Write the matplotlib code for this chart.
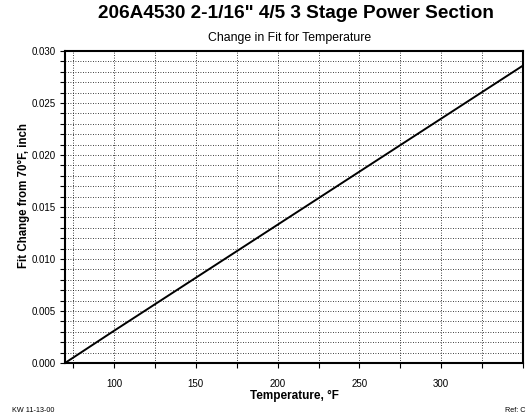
import numpy as np
import matplotlib.pyplot as plt
from matplotlib.ticker import MultipleLocator, FixedLocator, FormatStrFormatter

plt.rcParams['font.family'] = ['Liberation Sans', 'DejaVu Sans']

# Fit change vs temperature
temps = [70, 100, 150, 200, 250, 300, 350]
fit_change = [0.0, 0.0031, 0.0082, 0.0133, 0.0184, 0.0235, 0.0286]
x_labels = [100, 150, 200, 250, 300]

fig = plt.figure(figsize=(5.29, 4.19), dpi=100)
ax = fig.add_axes([65/529, 1 - 363/419, (523 - 65)/529, (363 - 51)/419])

ax.plot(temps, fit_change, color='black', lw=1.4)

ax.set_xlim(70, 350)
ax.set_ylim(0, 0.030)
ax.xaxis.set_major_locator(FixedLocator(x_labels))
ax.xaxis.set_minor_locator(MultipleLocator(25))
ax.yaxis.set_major_locator(MultipleLocator(0.005))
ax.yaxis.set_minor_locator(MultipleLocator(0.001))
ax.yaxis.set_major_formatter(FormatStrFormatter('%.3f'))

ax.grid(which='both', color='black', linestyle=(0, (1, 2)), linewidth=0.6)
ax.tick_params(which='both', direction='out', length=3.5, width=0.8,
               labelsize=7, color='black')
ax.tick_params(axis='x', pad=8)
for s in ax.spines.values():
    s.set_linewidth(1.5)

ax.set_xlabel('Temperature, \u00b0F', fontsize=8.5, fontweight='bold', labelpad=1)
fig.text(23.5/529, 1 - 196/419, 'Fit Change from 70\u00b0F, inch', rotation=90,
         ha='center', va='center', fontsize=8.3, fontweight='bold')

fig.text(296/529, 1 - 14/419, '206A4530 2-1/16" 4/5 3 Stage Power Section',
         ha='center', va='center', fontsize=13.7, fontweight='bold')
fig.text(290/529, 1 - 38/419, 'Change in Fit for Temperature',
         ha='center', va='center', fontsize=8.8)

fig.text(12/529, 1 - 410/419, 'KW 11-13-00', ha='left', va='center', fontsize=5.2)
fig.text(505/529, 1 - 410/419, 'Ref: C', ha='left', va='center', fontsize=5.2)

fig.savefig('out.png', dpi=100)
